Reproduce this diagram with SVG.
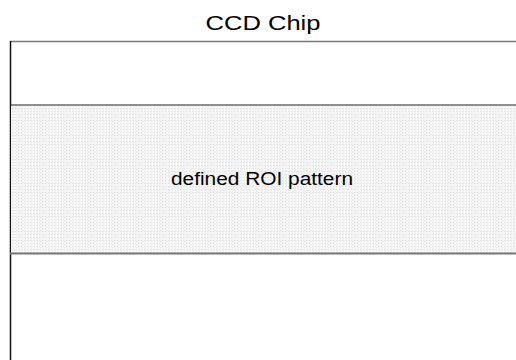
<svg xmlns="http://www.w3.org/2000/svg" width="516" height="360" viewBox="0 0 516 360">
  <style>
    .lbl { font-family: "Liberation Sans", Arial, Helvetica, sans-serif; fill: #000; }
  </style>
  <defs>
    <pattern id="dots" x="0" y="0" width="3" height="3" patternUnits="userSpaceOnUse">
      <rect width="3" height="3" fill="#f7f7f7"/>
      <rect width="1" height="1" fill="#e2e2e2"/>
      <rect x="1" y="0" width="1" height="3" fill="#efefef"/>
    </pattern>
  </defs>
  <rect width="516" height="360" fill="#ffffff"/>
  <g id="title">
    <text class="lbl" x="263" y="30" font-size="21" text-anchor="middle" textLength="115" lengthAdjust="spacingAndGlyphs">CCD Chip</text>
  </g>
  <g id="ccd-chip">
    <line x1="10" y1="41.5" x2="516" y2="41.5" stroke="#7a7a7a" stroke-width="1.5"/>
    <line x1="10.5" y1="41" x2="10.5" y2="360" stroke="#111" stroke-width="1.5"/>
  </g>
  <g id="roi">
    <rect x="11" y="105.5" width="505" height="148" fill="url(#dots)"/>
    <line x1="10" y1="105" x2="516" y2="105" stroke="#222" stroke-width="1.2"/>
    <line x1="10" y1="253.5" x2="516" y2="253.5" stroke="#777" stroke-width="2"/>
    <text class="lbl" x="262" y="185" font-size="17.5" text-anchor="middle" textLength="182" lengthAdjust="spacingAndGlyphs">defined ROI pattern</text>
  </g>
  <g id="connectors"/>
</svg>
